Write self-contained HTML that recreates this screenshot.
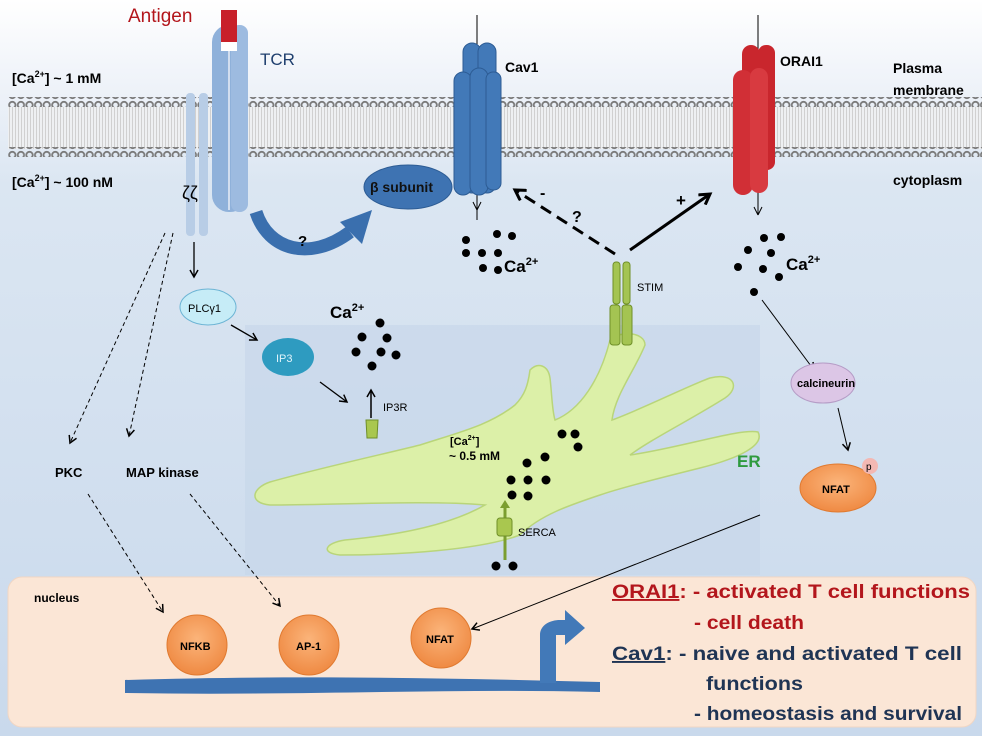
<!DOCTYPE html>
<html><head><meta charset="utf-8"><style>
html,body{margin:0;padding:0;background:#fff}
svg{display:block;font-family:"Liberation Sans",sans-serif}
.b{font-weight:bold}
</style></head><body>
<svg width="992" height="736" viewBox="0 0 992 736" xmlns="http://www.w3.org/2000/svg">
<defs>
<linearGradient id="bg" x1="0" y1="0" x2="0" y2="1">
<stop offset="0" stop-color="#ffffff"/><stop offset="0.09" stop-color="#f2f5fa"/><stop offset="0.25" stop-color="#dbe6f2"/><stop offset="1" stop-color="#c9d9ec"/>
</linearGradient>
<pattern id="heads" x="8" y="0" width="8.6" height="10" patternUnits="userSpaceOnUse">
<circle cx="4.3" cy="5" r="3.2" fill="none" stroke="#7a7a7a" stroke-width="1.8"/>
</pattern>
<pattern id="tails" x="0" y="0" width="3" height="10" patternUnits="userSpaceOnUse">
<rect width="1" height="10" fill="#d0d0d0"/>
</pattern>
<marker id="ah" markerWidth="10" markerHeight="10" refX="8" refY="5" orient="auto" markerUnits="userSpaceOnUse">
<path d="M1,1 L8,5 L1,9" fill="none" stroke="#000" stroke-width="1.5"/>
</marker>
<marker id="ahb" markerWidth="14" markerHeight="14" refX="11" refY="7" orient="auto" markerUnits="userSpaceOnUse">
<path d="M1,1 L11,7 L1,13" fill="none" stroke="#000" stroke-width="3"/>
</marker>
<radialGradient id="org" cx="0.5" cy="0.4" r="0.6"><stop offset="0" stop-color="#fbb47a"/><stop offset="1" stop-color="#ef8a43"/></radialGradient>
</defs>
<rect x="0" y="0" width="992" height="736" fill="url(#bg)"/>
<rect x="982" y="0" width="10" height="736" fill="#fff"/>
<!-- membrane -->
<rect x="8" y="107" width="974" height="42" fill="#eef0f2"/>
<rect x="8" y="107" width="974" height="42" fill="url(#tails)"/>
<rect x="8" y="97" width="974" height="10" fill="url(#heads)"/>
<rect x="8" y="147" width="974" height="10" fill="url(#heads)"/>
<!-- ER region box -->
<rect x="245" y="325" width="515" height="250" fill="#c7d7ea" opacity="0.7"/>
<!-- nucleus -->
<rect x="8" y="577" width="968" height="150" rx="14" fill="#fbe6d6" stroke="#f0d6c4"/>
<!-- text left -->
<text x="12" y="83" font-size="14" class="b">[Ca<tspan font-size="9" dy="-6">2+</tspan><tspan dy="6">]  ~ 1 mM</tspan></text>
<text x="12" y="187" font-size="14" class="b">[Ca<tspan font-size="9" dy="-6">2+</tspan><tspan dy="6">]  ~ 100 nM</tspan></text>
<text x="128" y="22" font-size="19" fill="#b3161c">Antigen</text>
<text x="260" y="65" font-size="17" fill="#1f3f6e">TCR</text>
<!-- zeta chains -->
<rect x="186" y="93" width="9" height="143" rx="4" fill="#b8cde6"/>
<rect x="199" y="93" width="9" height="143" rx="4" fill="#b8cde6"/>
<text x="182" y="199" font-size="18">ζζ</text>
<!-- TCR -->
<rect x="212" y="25" width="35" height="187" rx="17" fill="#8fb1da"/>
<rect x="231" y="25" width="17" height="187" rx="8" fill="#9dbbe0"/>
<line x1="229" y1="50" x2="229" y2="210" stroke="#e8eef6" stroke-width="1.5"/>
<rect x="221" y="10" width="16" height="32" fill="#c8202a"/>
<rect x="221" y="42" width="16" height="9" fill="#fff"/>
<!-- curved arrow -->
<path d="M256,212 C268,250 310,262 350,232" fill="none" stroke="#3a6fae" stroke-width="13"/>
<path d="M340,222 L372,210 L362,244 Z" fill="#3a6fae"/>
<text x="298" y="246" font-size="15" class="b">?</text>
<!-- beta subunit -->
<ellipse cx="408" cy="187" rx="44" ry="22" fill="#3e73b2" stroke="#2d5c94"/>
<text x="370" y="192" font-size="14" class="b" fill="#111">β subunit</text>
<!-- Cav1 -->
<line x1="477" y1="15" x2="477" y2="220" stroke="#000"/>
<path d="M477,210 l-4,-8 M477,210 l4,-8" stroke="#000" fill="none"/>
<g fill="#4279b8" stroke="#2d5c94">
<rect x="463" y="43" width="18" height="150" rx="9"/>
<rect x="478" y="43" width="18" height="150" rx="9"/>
<rect x="454" y="72" width="18" height="123" rx="9"/>
<rect x="470" y="68" width="18" height="127" rx="9"/>
<rect x="486" y="72" width="15" height="118" rx="7"/>
</g>
<text x="505" y="72" font-size="14" class="b">Cav1</text>
<g fill="#000">
<circle cx="466" cy="240" r="4"/><circle cx="497" cy="234" r="4"/><circle cx="512" cy="236" r="4"/>
<circle cx="466" cy="253" r="4"/><circle cx="482" cy="253" r="4"/><circle cx="498" cy="253" r="4"/>
<circle cx="483" cy="268" r="4"/><circle cx="498" cy="270" r="4"/>
</g>
<text x="504" y="272" font-size="17" class="b">Ca<tspan font-size="11" dy="-7">2+</tspan></text>
<!-- ORAI1 -->
<line x1="758" y1="15" x2="758" y2="215" stroke="#000"/>
<path d="M758,215 l-4,-8 M758,215 l4,-8" stroke="#000" fill="none"/>
<g fill="#c9262d">
<rect x="742" y="45" width="18" height="135" rx="9"/>
<rect x="758" y="45" width="17" height="125" rx="8"/>
<rect x="733" y="70" width="20" height="125" rx="10" fill="#d12f36"/>
<rect x="750" y="68" width="18" height="125" rx="9" fill="#d83a40"/>
</g>
<text x="780" y="66" font-size="14" class="b">ORAI1</text>
<text x="893" y="73" font-size="14" class="b">Plasma</text>
<text x="893" y="95" font-size="14" class="b">membrane</text>
<text x="893" y="185" font-size="14" class="b">cytoplasm</text>
<g fill="#000">
<circle cx="764" cy="238" r="4"/><circle cx="781" cy="237" r="4"/>
<circle cx="748" cy="250" r="4"/><circle cx="771" cy="253" r="4"/>
<circle cx="738" cy="267" r="4"/><circle cx="763" cy="269" r="4"/><circle cx="779" cy="277" r="4"/>
<circle cx="754" cy="292" r="4"/>
</g>
<text x="786" y="270" font-size="17" class="b">Ca<tspan font-size="11" dy="-7">2+</tspan></text>
<!-- STIM arrows -->
<line x1="615" y1="254" x2="515" y2="190" stroke="#000" stroke-width="3" stroke-dasharray="12,7" marker-end="url(#ahb)"/>
<text x="540" y="198" font-size="16" class="b">-</text>
<text x="572" y="222" font-size="16" class="b">?</text>
<line x1="630" y1="250" x2="710" y2="194" stroke="#000" stroke-width="3" marker-end="url(#ahb)"/>
<text x="676" y="206" font-size="17" class="b">+</text>
<!-- ER -->
<path d="M610,340 C620,330 645,332 645,345 C635,370 615,395 612,420 C640,410 690,385 710,378 C735,372 740,388 725,398 C690,420 650,440 630,455 C680,448 740,428 758,432 C765,445 740,458 700,468 C660,478 620,488 600,495 C570,505 540,515 520,535 C480,550 400,555 340,555 C320,553 325,543 345,540 C400,535 450,525 485,505 C430,500 330,505 270,505 C248,503 252,488 270,482 C320,468 380,455 420,445 C460,432 490,425 515,405 C525,395 528,385 530,370 C538,362 548,365 550,378 C552,395 552,410 555,420 C580,410 600,380 610,340 Z" fill="#dcf0a8" stroke="#b9d57a" stroke-width="1.5"/>
<text x="450" y="445" font-size="11" class="b">[Ca<tspan font-size="7" dy="-5">2+</tspan><tspan dy="5">]</tspan></text>
<text x="449" y="460" font-size="12" class="b">~ 0.5 mM</text>
<text x="737" y="467" font-size="17" class="b" fill="#2e9a3e">ER</text>
<g fill="#000">
<circle cx="562" cy="434" r="4.5"/><circle cx="575" cy="434" r="4.5"/><circle cx="578" cy="447" r="4.5"/>
<circle cx="545" cy="457" r="4.5"/><circle cx="527" cy="463" r="4.5"/>
<circle cx="511" cy="480" r="4.5"/><circle cx="528" cy="480" r="4.5"/><circle cx="546" cy="480" r="4.5"/>
<circle cx="512" cy="495" r="4.5"/><circle cx="528" cy="496" r="4.5"/>
<circle cx="496" cy="566" r="4.5"/><circle cx="513" cy="566" r="4.5"/>
</g>
<!-- SERCA -->
<line x1="505" y1="560" x2="505" y2="505" stroke="#7b9e2f" stroke-width="3"/>
<path d="M500,508 L505,500 L510,508" fill="#7b9e2f"/>
<rect x="497" y="518" width="15" height="18" rx="3" fill="#a9c74f" stroke="#6f8f28"/>
<text x="518" y="536" font-size="11">SERCA</text>
<!-- STIM -->
<g fill="#a4c452" stroke="#6f8f28">
<rect x="613" y="262" width="7" height="42" rx="3"/><rect x="623" y="262" width="7" height="42" rx="3"/>
<rect x="610" y="305" width="10" height="40" rx="3"/><rect x="622" y="305" width="10" height="40" rx="3"/>
</g>
<text x="637" y="291" font-size="11">STIM</text>
<!-- IP3R -->
<path d="M366,420 L378,420 L377,438 L367,438 Z" fill="#a9c74f" stroke="#6f8f28"/>
<line x1="371" y1="418" x2="371" y2="390" stroke="#000" stroke-width="1.5" marker-end="url(#ah)"/>
<text x="383" y="411" font-size="11">IP3R</text>
<text x="330" y="318" font-size="17" class="b">Ca<tspan font-size="11" dy="-7">2+</tspan></text>
<g fill="#000">
<circle cx="380" cy="323" r="4.5"/><circle cx="362" cy="337" r="4.5"/><circle cx="387" cy="338" r="4.5"/>
<circle cx="356" cy="352" r="4.5"/><circle cx="381" cy="352" r="4.5"/><circle cx="396" cy="355" r="4.5"/>
<circle cx="372" cy="366" r="4.5"/>
</g>
<!-- PLC / IP3 -->
<line x1="194" y1="242" x2="194" y2="277" stroke="#000" stroke-width="1.3" marker-end="url(#ah)"/>
<ellipse cx="208" cy="307" rx="28" ry="18" fill="#c6ecf7" stroke="#6cb4d4"/>
<text x="188" y="312" font-size="11">PLCγ1</text>
<line x1="231" y1="325" x2="257" y2="340" stroke="#000" stroke-width="1.3" marker-end="url(#ah)"/>
<ellipse cx="288" cy="357" rx="26" ry="19" fill="#2e9bc0"/>
<text x="276" y="362" font-size="11" fill="#e0f3fa">IP3</text>
<line x1="320" y1="382" x2="347" y2="402" stroke="#000" stroke-width="1.3" marker-end="url(#ah)"/>
<!-- dashed to PKC/MAPK -->
<line x1="165" y1="233" x2="70" y2="443" stroke="#000" stroke-dasharray="4,3" marker-end="url(#ah)"/>
<line x1="173" y1="233" x2="129" y2="436" stroke="#000" stroke-dasharray="4,3" marker-end="url(#ah)"/>
<text x="55" y="477" font-size="13" class="b">PKC</text>
<text x="126" y="477" font-size="13" class="b">MAP kinase</text>
<line x1="88" y1="494" x2="163" y2="612" stroke="#000" stroke-dasharray="4,3" marker-end="url(#ah)"/>
<line x1="190" y1="494" x2="280" y2="606" stroke="#000" stroke-dasharray="4,3" marker-end="url(#ah)"/>
<!-- calcineurin / NFAT -->
<line x1="762" y1="300" x2="814" y2="370" stroke="#000" marker-end="url(#ah)"/>
<ellipse cx="823" cy="383" rx="32" ry="20" fill="#dcc6e6" stroke="#b59cc6"/>
<text x="797" y="387" font-size="11" class="b">calcineurin</text>
<line x1="838" y1="408" x2="848" y2="450" stroke="#000" marker-end="url(#ah)"/>
<ellipse cx="838" cy="488" rx="38" ry="24" fill="url(#org)" stroke="#e07a30"/>
<circle cx="870" cy="466" r="8" fill="#f3b8b3"/>
<text x="866" y="470" font-size="10">p</text>
<text x="822" y="493" font-size="11" class="b">NFAT</text>
<line x1="760" y1="515" x2="472" y2="629" stroke="#000" marker-end="url(#ah)"/>
<!-- nucleus content -->
<text x="34" y="602" font-size="12" class="b">nucleus</text>
<path d="M125,680 C300,675 450,678 600,682 L600,692 C450,688 300,696 125,693 Z" fill="#3e73b2"/>
<path d="M540,683 L540,635 C540,625 550,620 560,620 L565,620 L565,610 L585,628 L565,645 L565,635 L556,635 L556,683 Z" fill="#4279b8"/>
<g stroke="#e07a30" fill="url(#org)">
<circle cx="197" cy="645" r="30"/><circle cx="309" cy="645" r="30"/><circle cx="441" cy="638" r="30"/>
</g>
<text x="180" y="650" font-size="11" class="b">NFKB</text>
<text x="296" y="650" font-size="11" class="b">AP-1</text>
<text x="426" y="643" font-size="11" class="b">NFAT</text>
<g font-size="19" class="b">
<text x="612" y="598" fill="#b3161c" textLength="358" lengthAdjust="spacingAndGlyphs"><tspan text-decoration="underline">ORAI1</tspan>: - activated T cell functions</text>
<text x="694" y="629" fill="#b3161c" textLength="110" lengthAdjust="spacingAndGlyphs">- cell death</text>
<text x="612" y="660" fill="#1f3454" textLength="350" lengthAdjust="spacingAndGlyphs"><tspan text-decoration="underline">Cav1</tspan>:   - naive and activated T cell</text>
<text x="706" y="690" fill="#1f3454" textLength="97" lengthAdjust="spacingAndGlyphs">functions</text>
<text x="694" y="720" fill="#1f3454" textLength="268" lengthAdjust="spacingAndGlyphs">- homeostasis and survival</text>
</g>
</svg>
</body></html>
